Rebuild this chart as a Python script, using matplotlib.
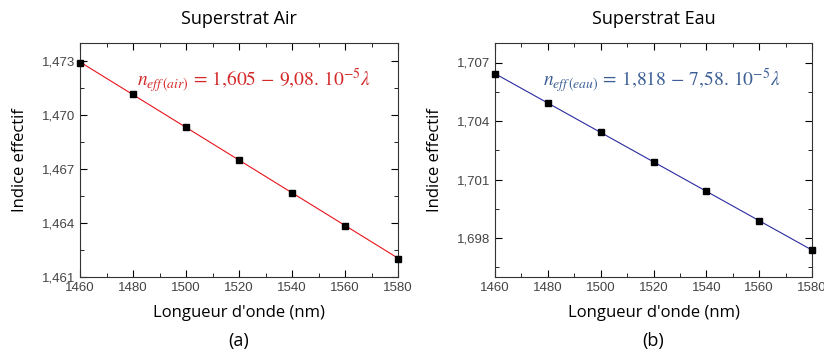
import numpy as np
import matplotlib.pyplot as plt
from matplotlib.ticker import FuncFormatter, MultipleLocator

plt.rcParams['font.family'] = ['Open Sans', 'DejaVu Sans']
plt.rcParams['mathtext.fontset'] = 'stix'

wavelength = [1460, 1480, 1500, 1520, 1540, 1560, 1580]
n_air = [1.4729, 1.47115, 1.46933, 1.46752, 1.46569, 1.46386, 1.46202]
n_eau = [1.70642, 1.70492, 1.70342, 1.70191, 1.70040, 1.69889, 1.69737]

def comma(v, pos):
    return f'{v:.3f}'.replace('.', ',')

fig = plt.figure(figsize=(8.24, 3.53), dpi=100)
ax1 = fig.add_axes([80/824, 1 - 277/353, 318/824, 234/353])
ax2 = fig.add_axes([495/824, 1 - 277/353, 317/824, 234/353])

panels = [
    (ax1, n_air, '#e8141c', 'Superstrat Air', (1.461, 1.474), [1.461, 1.464, 1.467, 1.470, 1.473],
     r'$n_{eff\,(air)} \,=\, 1{,}605 \,-\, 9{,}08.\,10^{-5}\lambda$', '#d42a2a', (1481.5, 1.4719), '(a)'),
    (ax2, n_eau, '#2a2aa0', 'Superstrat Eau', (1.696, 1.708), [1.698, 1.701, 1.704, 1.707],
     r'$n_{eff\,(eau)} \,=\, 1{,}818 \,-\, 7{,}58.\,10^{-5}\lambda$', '#3d5f95', (1478.3, 1.70606), '(b)'),
]

for ax, vals, lc, title, ylim, yt, eq, ec, pos, tag in panels:
    x = np.array(wavelength)
    y = np.array(vals)
    p = np.polyfit(x, y, 1)
    ax.plot(x, np.polyval(p, x), color=lc, lw=0.8, zorder=2)
    ax.plot(x, y, 's', color='black', ms=4.5, zorder=3, clip_on=False)
    ax.set_xlim(1460, 1580)
    ax.set_ylim(*ylim)
    ax.set_xticks(wavelength)
    ax.set_yticks(yt)
    ax.xaxis.set_minor_locator(MultipleLocator(10))
    ax.yaxis.set_minor_locator(MultipleLocator(0.0015))
    ax.yaxis.set_major_formatter(FuncFormatter(comma))
    ax.tick_params(which='both', direction='in', top=True, right=True,
                   labelsize=9.5, labelcolor='#444444')
    for lab in ax.get_xticklabels() + ax.get_yticklabels():
        lab.set_family(['Liberation Sans', 'DejaVu Sans'])
    ax.tick_params(which='major', length=5)
    ax.tick_params(which='minor', length=3)
    for s in ax.spines.values():
        s.set_color('#333333')
    ax.set_title(title, fontsize=13, pad=14)
    ax.set_xlabel("Longueur d'onde (nm)", fontsize=12, labelpad=8)
    ax.set_ylabel('Indice effectif', fontsize=12, labelpad=10)
    ax.text(pos[0], pos[1], eq, color=ec, fontsize=14, va='center', ha='left')
    ax.text(0.5, -0.235, tag, transform=ax.transAxes, ha='center', va='top', fontsize=13)

fig.savefig('out.png', dpi=100)
